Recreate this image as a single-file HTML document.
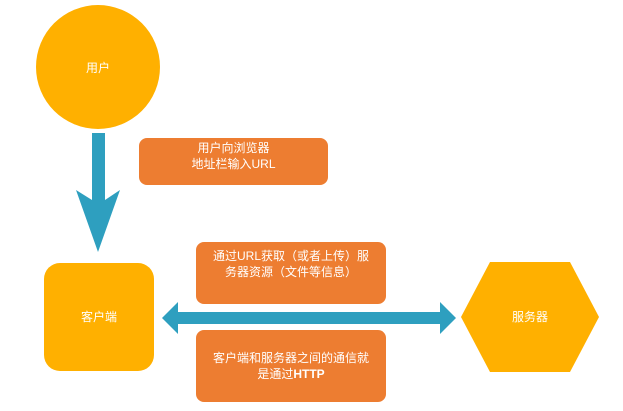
<!DOCTYPE html>
<html><head><meta charset="utf-8"><style>
body{margin:0;width:623px;height:411px;background:#fff;overflow:hidden;position:relative;font-family:"Liberation Sans","Noto Sans CJK SC",sans-serif;color:#fff;font-size:12px}
.b{position:absolute;background:#ED7D31;border-radius:8px;text-align:center;line-height:16px}
</style></head><body>
<svg width="623" height="411" style="position:absolute;left:0;top:0">
<circle cx="98" cy="67" r="62" fill="#FFB000"/>
<polygon points="92,133 105,133 105,200 120,190 98,252 76,190 92,200" fill="#2E9FBF"/>
<rect x="44" y="263" width="110" height="108" rx="16" fill="#FFB000"/>
<polygon points="162,318 178,302 178,312 440,312 440,302 456,318 440,334 440,324 178,324 178,334" fill="#2E9FBF"/>
<polygon points="461,317 490,262 570,262 599,317 570,372 490,372" fill="#FFB000"/>
<text x="98" y="72" font-size="12" fill="#fff" text-anchor="middle" font-family="Liberation Sans, Noto Sans CJK SC, sans-serif">用户</text>
<text x="99" y="321" font-size="12" fill="#fff" text-anchor="middle" font-family="Liberation Sans, Noto Sans CJK SC, sans-serif">客户端</text>
<text x="530" y="321" font-size="12" fill="#fff" text-anchor="middle" font-family="Liberation Sans, Noto Sans CJK SC, sans-serif">服务器</text>
</svg>
<div class="b" style="left:139px;top:138px;width:189px;height:47px;padding-top:0"><div style="margin-top:2px">用户向浏览器<br>地址栏输入URL</div></div>
<div class="b" style="left:196px;top:242px;width:190px;height:62px"><div style="margin-top:6px">通过URL获取（或者上传）服<br>务器资源（文件等信息）</div></div>
<div class="b" style="left:196px;top:330px;width:190px;height:72px"><div style="margin-top:20px">客户端和服务器之间的通信就<br>是通过<b>HTTP</b></div></div>
</body></html>
